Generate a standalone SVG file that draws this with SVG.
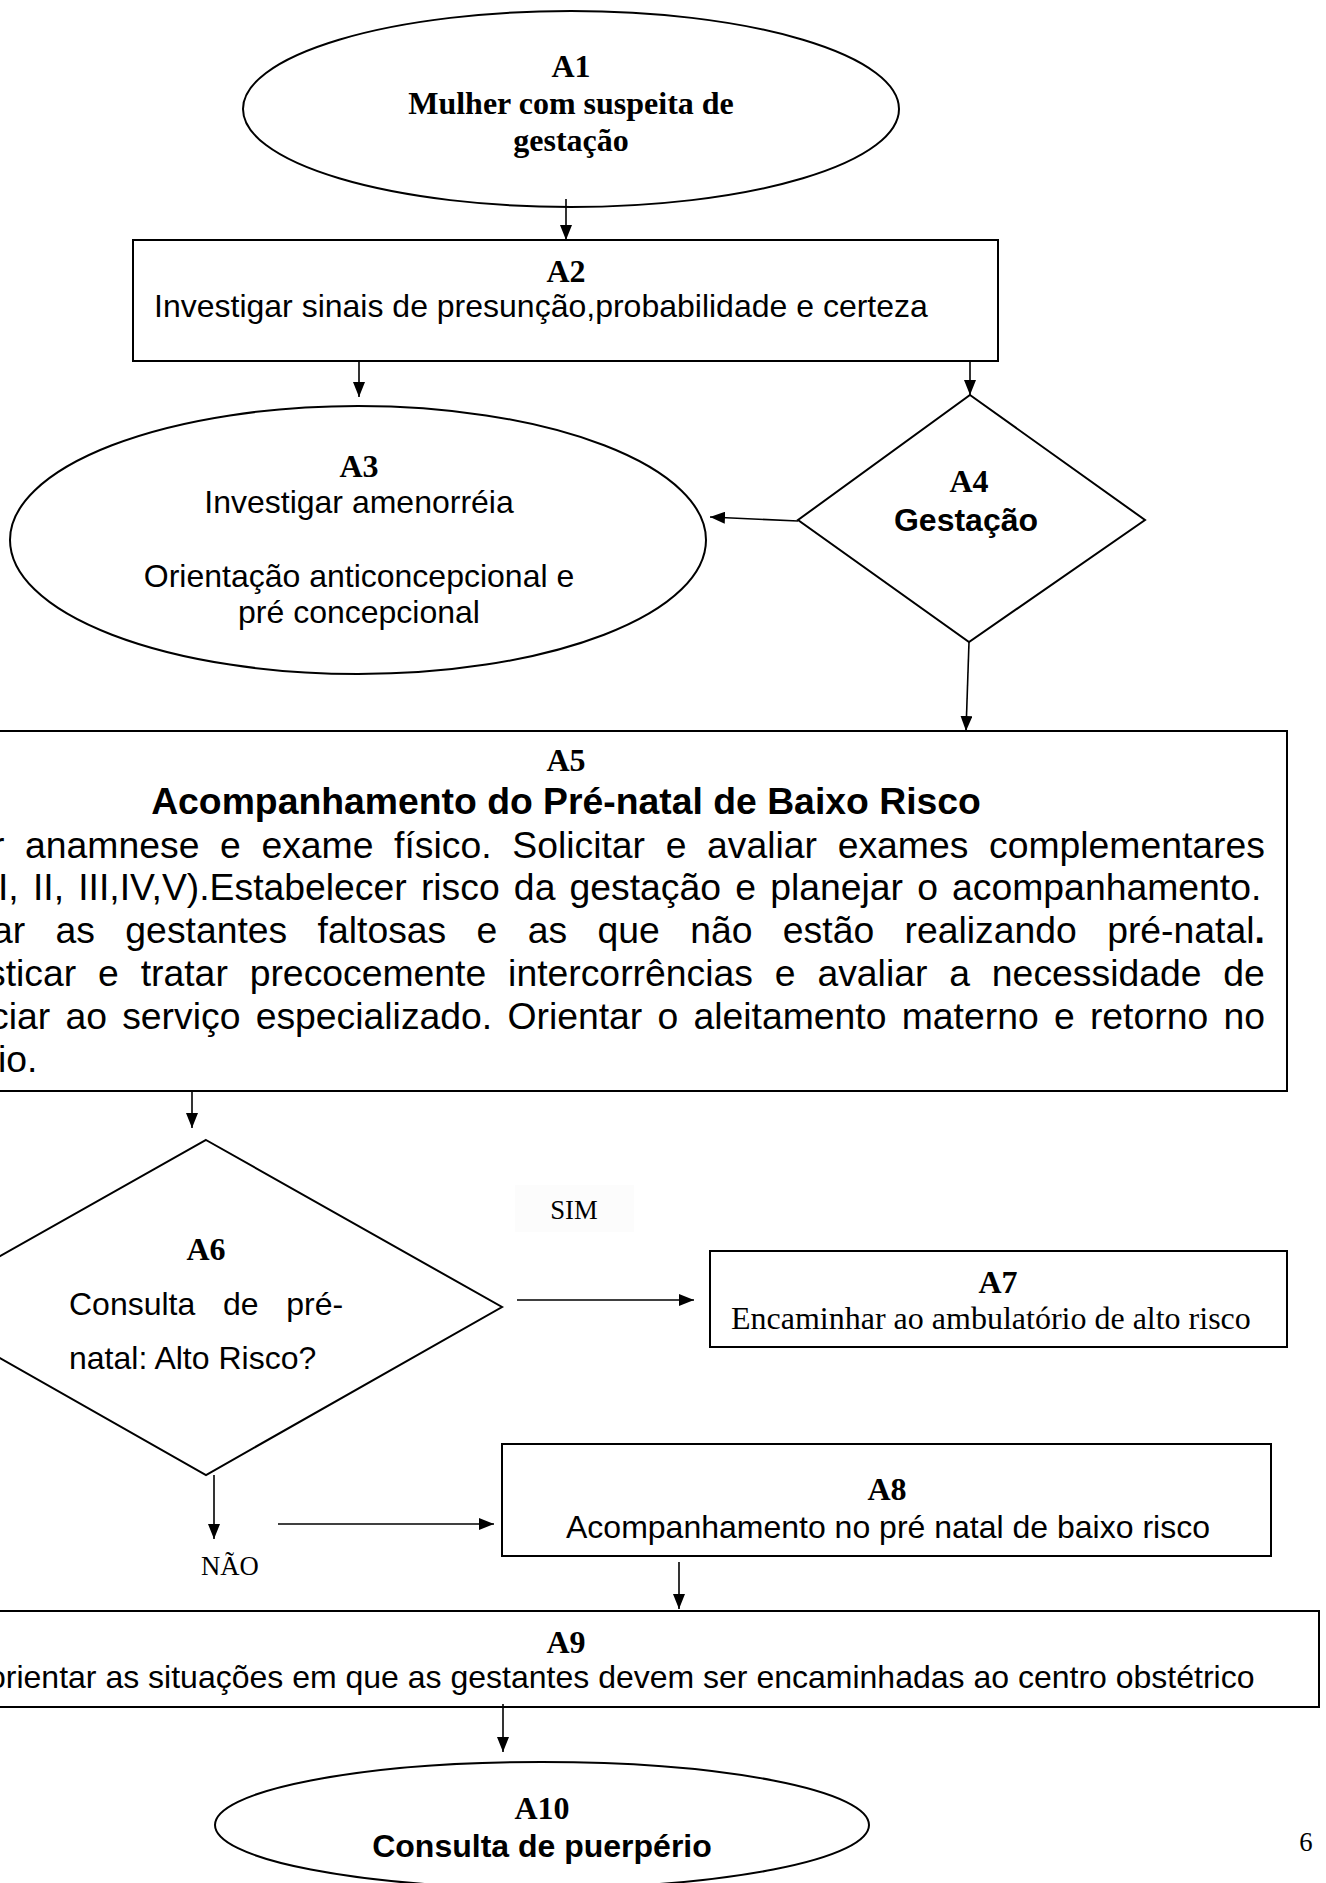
<svg xmlns="http://www.w3.org/2000/svg" width="1326" height="1883" viewBox="0 0 1326 1883">
<style>
.shape{fill:#fff;stroke:#000;stroke-width:2}
.con{fill:none;stroke:#000;stroke-width:1.6}
.tb{font-family:"Liberation Serif","Times New Roman",serif;font-weight:bold;font-size:32px;fill:#000}
.tr{font-family:"Liberation Serif","Times New Roman",serif;font-size:32px;fill:#000}
.ts{font-family:"Liberation Serif","Times New Roman",serif;font-size:26.7px;fill:#000}
.sa{font-family:"Liberation Sans",Arial,sans-serif;font-size:32px;fill:#000}
.sab{font-family:"Liberation Sans",Arial,sans-serif;font-size:32px;font-weight:bold;fill:#000}
.body{font-family:"Liberation Sans",Arial,sans-serif;font-size:37.33px;fill:#000}
.head{font-family:"Liberation Sans",Arial,sans-serif;font-size:37.33px;font-weight:bold;fill:#000}
.c{text-anchor:middle}
</style>
<defs>
<marker id="ah" markerUnits="userSpaceOnUse" markerWidth="15" markerHeight="12" refX="15" refY="6" orient="auto">
<path d="M0,0 L15,6 L0,12 z" fill="#000"/>
</marker>
</defs>
<rect width="1326" height="1883" fill="#fff"/>

<g id="A1">
<ellipse class="shape" cx="571" cy="109" rx="328" ry="98"/>
<text class="tb c" x="571" y="77">A1</text>
<text class="tb c" x="571" y="114">Mulher com suspeita de</text>
<text class="tb c" x="571" y="151">gestação</text>
</g>

<g id="A2">
<rect class="shape" x="133" y="240" width="865" height="121"/>
<text class="tb c" x="566" y="282">A2</text>
<text class="sa" x="154" y="317">Investigar sinais de presunção,probabilidade e certeza</text>
</g>

<g id="A3">
<ellipse class="shape" cx="358" cy="540" rx="348" ry="134"/>
<text class="tb c" x="359" y="477">A3</text>
<text class="sa c" x="359" y="513">Investigar amenorréia</text>
<text class="sa c" x="359" y="587">Orientação anticoncepcional e</text>
<text class="sa c" x="359" y="623">pré concepcional</text>
</g>

<g id="A4">
<polygon class="shape" points="970,395 1145,520 969,642 798,520"/>
<text class="tb c" x="969" y="492">A4</text>
<text class="sab c" x="966" y="531">Gestação</text>
</g>

<g id="A5">
<rect class="shape" x="-10" y="731" width="1297" height="360"/>
<text class="tb c" x="566" y="771">A5</text>
<text class="head c" x="566" y="814">Acompanhamento do Pré-natal de Baixo Risco</text>
<text class="body" x="-8" y="858" word-spacing="10.27">r anamnese e exame físico. Solicitar e avaliar exames complementares</text>
<text class="body" x="-2" y="900" word-spacing="3.8">I, II, III,IV,V).Estabelecer risco da gestação e planejar o acompanhamento.</text>
<text class="body" x="-8" y="943" word-spacing="20">ar as gestantes faltosas e as que não estão realizando pré-natal<tspan font-weight="bold">.</tspan></text>
<text class="body" x="-13" y="986" word-spacing="11.5">sticar e tratar precocemente intercorrências e avaliar a necessidade de</text>
<text class="body" x="-10" y="1029" word-spacing="4.87">ciar ao serviço especializado. Orientar o aleitamento materno e retorno no</text>
<text class="body" x="-2" y="1072">io.</text>
</g>

<g id="A6">
<polygon class="shape" points="206,1140 502,1307 206,1475 -90,1307"/>
<text class="tb c" x="206" y="1260">A6</text>
<text class="sa" x="69" y="1315" word-spacing="18.75">Consulta de pré-</text>
<text class="sa" x="69" y="1369">natal: Alto Risco?</text>
</g>

<g id="A7">
<rect class="shape" x="710" y="1251" width="577" height="96"/>
<text class="tb c" x="998" y="1293">A7</text>
<text class="tr" x="731" y="1329">Encaminhar ao ambulatório de alto risco</text>
</g>

<g id="A8">
<rect class="shape" x="502" y="1444" width="769" height="112"/>
<text class="tb c" x="887" y="1500">A8</text>
<text class="sa" x="566" y="1538">Acompanhamento no pré natal de baixo risco</text>
</g>

<g id="A9">
<rect class="shape" x="-10" y="1611" width="1329" height="96"/>
<text class="tb c" x="566" y="1653">A9</text>
<text class="sa" x="-12" y="1688">orientar as situações em que as gestantes devem ser encaminhadas ao centro obstétrico</text>
</g>

<g id="A10">
<ellipse class="shape" cx="542" cy="1825" rx="327" ry="63"/>
<text class="tb c" x="542" y="1819">A10</text>
<text class="sab c" x="542" y="1857">Consulta de puerpério</text>
</g>

<g id="labels">
<rect x="515" y="1185" width="119" height="47" fill="#fcfcfc"/>
<text class="ts c" x="574" y="1219">SIM</text>
<text class="ts c" x="230" y="1575">NÃO</text>
<text class="ts c" x="1306" y="1851">6</text>
</g>

<g id="connectors">
<line class="con" x1="566" y1="199" x2="566" y2="240" marker-end="url(#ah)"/>
<line class="con" x1="359" y1="361" x2="359" y2="397" marker-end="url(#ah)"/>
<line class="con" x1="970" y1="361" x2="970" y2="395" marker-end="url(#ah)"/>
<line class="con" x1="798" y1="521" x2="710" y2="517" marker-end="url(#ah)"/>
<line class="con" x1="969" y1="642" x2="966" y2="731" marker-end="url(#ah)"/>
<line class="con" x1="192" y1="1091" x2="192" y2="1128" marker-end="url(#ah)"/>
<line class="con" x1="517" y1="1300" x2="694" y2="1300" marker-end="url(#ah)"/>
<line class="con" x1="214" y1="1475" x2="214" y2="1539" marker-end="url(#ah)"/>
<line class="con" x1="278" y1="1524" x2="494" y2="1524" marker-end="url(#ah)"/>
<line class="con" x1="679" y1="1562" x2="679" y2="1609" marker-end="url(#ah)"/>
<line class="con" x1="503" y1="1704" x2="503" y2="1752" marker-end="url(#ah)"/>
</g>
</svg>
